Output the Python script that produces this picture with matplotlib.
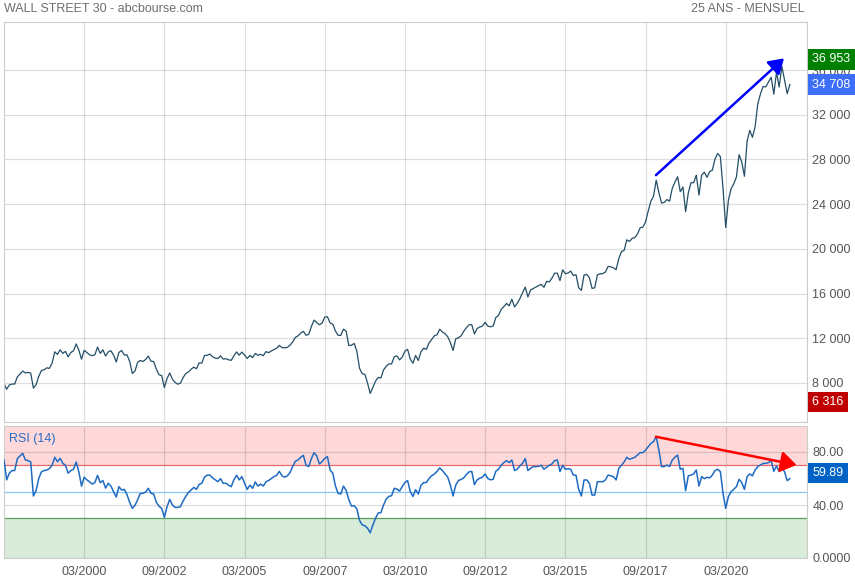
"""Wall Street 30, 25 years of monthly closes with an RSI(14) panel."""

import numpy as np
import pandas as pd
import matplotlib
matplotlib.use("Agg")
import matplotlib.pyplot as plt
from matplotlib.transforms import blended_transform_factory

plt.rcParams["font.family"] = ["Liberation Sans", "DejaVu Sans"]

START = "1997-09"

# monthly closes, Sep 1997 -> last (current) value
close = [
    7945, 7442, 7823, 7908,
    7907, 8546, 8800, 9063, 8900, 8952, 8883, 7539, 7843, 8592, 9117, 9181,
    9359, 9307, 9786, 10789, 10560, 10971, 10655, 10829, 10337, 10729, 10878, 11497,
    10941, 10128, 10922, 10734, 10522, 10448, 10522, 11215, 10651, 10971, 10415, 10787,
    10887, 10495, 9879, 10735, 10912, 10502, 10523, 9950, 8848, 9075, 9852, 10022,
    9920, 10106, 10404, 9946, 9925, 9243, 8737, 8664, 7592, 8397, 8896, 8342,
    8054, 7891, 7992, 8480, 8850, 8985, 9234, 9416, 9275, 9801, 9782, 10454,
    10488, 10584, 10358, 10226, 10188, 10435, 10140, 10174, 10080, 10027, 10428, 10783,
    10490, 10766, 10504, 10193, 10467, 10275, 10641, 10482, 10569, 10440, 10806, 10718,
    10865, 10993, 11109, 11367, 11168, 11150, 11186, 11381, 11679, 12081, 12222, 12463,
    12622, 12269, 12354, 13063, 13628, 13409, 13212, 13358, 13896, 13930, 13372, 13265,
    12650, 12266, 12263, 12820, 12638, 11350, 11378, 11544, 10851, 9325, 8829, 8776,
    8001, 7063, 7609, 8168, 8500, 8447, 9172, 9496, 9712, 9713, 10345, 10428,
    10067, 10325, 10857, 11009, 10137, 9774, 10466, 10015, 10788, 11118, 11006, 11578,
    11892, 12226, 12320, 12811, 12570, 12414, 12143, 11614, 10913, 11955, 12046, 12218,
    12633, 12952, 13212, 13214, 12393, 12880, 13009, 13091, 13437, 13096, 13026, 13104,
    13861, 14054, 14579, 14840, 15116, 14910, 15500, 14810, 15130, 15546, 16086, 16577,
    15699, 16322, 16458, 16581, 16717, 16827, 16563, 17098, 17043, 17391, 17828, 17823,
    17165, 18133, 17776, 17841, 18011, 17620, 17690, 16528, 16285, 17664, 17720, 17425,
    16466, 16517, 17685, 17774, 17787, 17930, 18432, 18401, 18308, 18142, 19124, 19763,
    19864, 20812, 20663, 20941, 21009, 21350, 21891, 21948, 22405, 23377, 24272, 24719,
    26149, 25029, 24103, 24163, 24416, 24271, 25415, 25965, 26458, 25116, 25538, 23327,
    24999, 25916, 25929, 26593, 24815, 26600, 26864, 26403, 26917, 27046, 28051, 28538,
    28256, 25409, 21917, 24346, 25383, 25813, 26428, 28430, 27782, 26502, 29638, 30606,
    29983, 30932, 32982, 33875, 34529, 34503, 34935, 35361, 33844, 35820, 34484, 36338,
    35132, 33893, 34708,
]

# RSI(14), same months
rsi = [
    74, 59, 64, 66, 66, 75, 77, 79, 74, 73.5,
    72.5, 46.8, 50.8, 60, 65, 66, 66.4, 67.5, 70, 76,
    72.7, 75.2, 71.4, 70, 64, 66, 67, 72.5, 65, 54.3,
    61, 59, 57.5, 55.8, 56.9, 62.4, 56.9, 58.4, 52.8, 56.4,
    54.3, 50, 46, 53.8, 51.3, 51.8, 48, 42, 37.5, 39.7,
    44, 48.8, 48.8, 49.8, 52.6, 48.8, 48.3, 42, 39, 37.5,
    30.7, 38.7, 44.3, 40, 38.2, 38.2, 38.7, 43, 46.5, 49.5,
    51.3, 53.3, 51.8, 55.5, 56.4, 61, 62.5, 62.6, 60.5, 59,
    57.6, 59.9, 56.4, 56.4, 55, 53.8, 59, 62.4, 59, 61.4,
    56.4, 51.8, 55, 52.6, 57.4, 54.3, 55.8, 54.3, 57.5, 58.5,
    60, 61.4, 62.4, 65.4, 62, 61, 62, 64.5, 69, 73,
    74, 76, 77.5, 70, 69, 75, 79.5, 77, 71, 72.7,
    75.2, 76.5, 66.4, 64, 54.3, 48.8, 48.3, 54.3, 51, 44,
    39.2, 39.5, 37, 28.5, 25, 24.3, 22.5, 19, 25, 30,
    34, 34.2, 40, 44.5, 46.5, 47, 52.6, 52, 50.5, 54,
    57, 58.4, 50, 46.5, 51.5, 48.3, 54.8, 56.9, 56.9, 60,
    62, 63.4, 65.4, 68, 66, 63.5, 61, 55, 46.8, 55,
    58.5, 59.3, 60.5, 63, 65, 65.4, 55.3, 59, 60.2, 61,
    63.4, 60, 59, 59.4, 65.5, 67, 70, 72, 73.5, 72,
    74, 66, 67, 69.5, 71.5, 75, 66, 67.7, 69, 69,
    69.2, 70, 67, 68.5, 70, 71, 73.5, 74, 65.2, 70,
    67, 67.4, 67, 62.6, 62.4, 51.8, 46.8, 58.9, 58.9, 56.4,
    47.5, 47.5, 57.6, 57.6, 57.6, 58.9, 62.6, 62, 61.4, 58.9,
    67.7, 70, 72.5, 76, 74.5, 75.2, 76, 77.7, 79.5, 79.5,
    81.5, 84, 86.5, 87.8, 91.6, 81.5, 69, 69, 70.2, 69,
    74, 76, 77.7, 67, 67.7, 50.8, 62, 62.6, 63.4, 66.4,
    54.3, 61.4, 59.9, 60.9, 60.4, 62.6, 66, 67, 65.2, 48.8,
    37.5, 46.3, 50, 51.8, 53.8, 59.4, 56.9, 51.8, 61.4, 63.4,
    62, 66.4, 69, 70.2, 71.4, 71.4, 72, 73.5, 65.4, 69.4,
    65.2, 67.7, 65.2, 58.4, 59.89,
]

last_price = 34708
period_high = 36953
period_low = 6316
last_rsi = 59.89

price_ticks = [8000, 12000, 16000, 20000, 24000, 28000, 32000, 36000]
rsi_ticks = [0, 40, 80]
rsi_tick_labels = ["0.0000", "40.00", "80.00"]
overbought, midline, oversold = 70, 50, 30

# hand-drawn trend lines: (month index, value)
price_arrow = ((243.9, 26600), (291.8, 37050))
rsi_arrow = ((243.9, 91.5), (296.5, 70.2))

W, H = 855, 580
LABEL = "#555555"


def fmt_thousands(v):
    return f"{v:,}".replace(",", " ")


def value_tag(ax, y, text, color):
    tr = blended_transform_factory(ax.transAxes, ax.transData)
    ax.text(1.007, y, text, transform=tr, ha="left", va="center", color="white",
            fontsize=9, clip_on=False, zorder=5,
            bbox=dict(boxstyle="square,pad=0.33", fc=color, ec="none"))


def style_axes(ax):
    for s in ax.spines.values():
        s.set_color("#cccccc")
    ax.yaxis.tick_right()
    ax.tick_params(length=0, labelsize=9, colors=LABEL, pad=4)
    ax.grid(True, color="black", alpha=0.13, lw=0.9)


x = np.arange(len(close))
months = pd.date_range(START, periods=len(close), freq="MS")
tick_idx = np.arange(30, len(close), 30)
tick_lab = months[tick_idx].strftime("%m/%Y")
xmax = 300.3

fig = plt.figure(figsize=(W / 100, H / 100), dpi=100)
ax = fig.add_axes([4 / W, 1 - 422 / H, 802.7 / W, 400 / H])
ax2 = fig.add_axes([4 / W, 1 - 558 / H, 802.7 / W, 132.5 / H])

# price panel
ax.plot(x, close, color="#234e66", lw=0.9)
ax.set_xlim(0, xmax)
ax.set_ylim(4510, 40304)
ax.set_yticks(price_ticks)
ax.set_yticklabels([fmt_thousands(v) for v in price_ticks])
ax.set_xticks(tick_idx)
ax.set_xticklabels([])
style_axes(ax)
ax.annotate("", xy=price_arrow[1], xytext=price_arrow[0],
            arrowprops=dict(arrowstyle="-|>,head_length=0.55,head_width=0.35",
                            color="#0000ff", lw=1.8, mutation_scale=16,
                            shrinkA=0, shrinkB=0))
value_tag(ax, period_high, fmt_thousands(period_high), "#008000")
value_tag(ax, last_price, fmt_thousands(last_price), "#3d6ef7")
value_tag(ax, period_low, fmt_thousands(period_low), "#c00000")

# RSI panel
ax2.axhspan(overbought, 100, color="#ffd9d9", lw=0, zorder=0)
ax2.axhspan(0, oversold, color="#d9ebd9", lw=0, zorder=0)
ax2.axhline(overbought, color="#e56b6b", lw=0.9, zorder=1.6)
ax2.axhline(midline, color="#8cc4f5", lw=0.9, zorder=1.6)
ax2.axhline(oversold, color="#5c9f5c", lw=0.9, zorder=1.6)
ax2.plot(x, rsi, color="#1e6bc4", lw=1.1, zorder=3)
ax2.set_xlim(0, xmax)
ax2.set_ylim(0, 100)
ax2.set_yticks(rsi_ticks)
ax2.set_yticklabels(rsi_tick_labels)
ax2.set_xticks(tick_idx)
ax2.set_xticklabels(tick_lab)
style_axes(ax2)
ax2.tick_params(axis="x", pad=6)
ax2.annotate("", xy=rsi_arrow[1], xytext=rsi_arrow[0],
             arrowprops=dict(arrowstyle="-|>,head_length=0.6,head_width=0.4",
                             color="#ff0000", lw=1.8, mutation_scale=16,
                             shrinkA=0, shrinkB=0), zorder=4)
value_tag(ax2, last_rsi + 4, f"{last_rsi:.2f}", "#0062c4")
ax2.text(0.006, 0.94, "RSI (14)", transform=ax2.transAxes, ha="left", va="top",
         color="#2a6bc4", fontsize=9)

fig.text(4 / W, 1 - 9 / H, "WALL STREET 30 - abcbourse.com", ha="left", va="center",
         color="#6e6e6e", fontsize=9)
fig.text(805 / W, 1 - 9 / H, "25 ANS - MENSUEL", ha="right", va="center",
         color="#6e6e6e", fontsize=9)

fig.savefig("out.png", dpi=100)
